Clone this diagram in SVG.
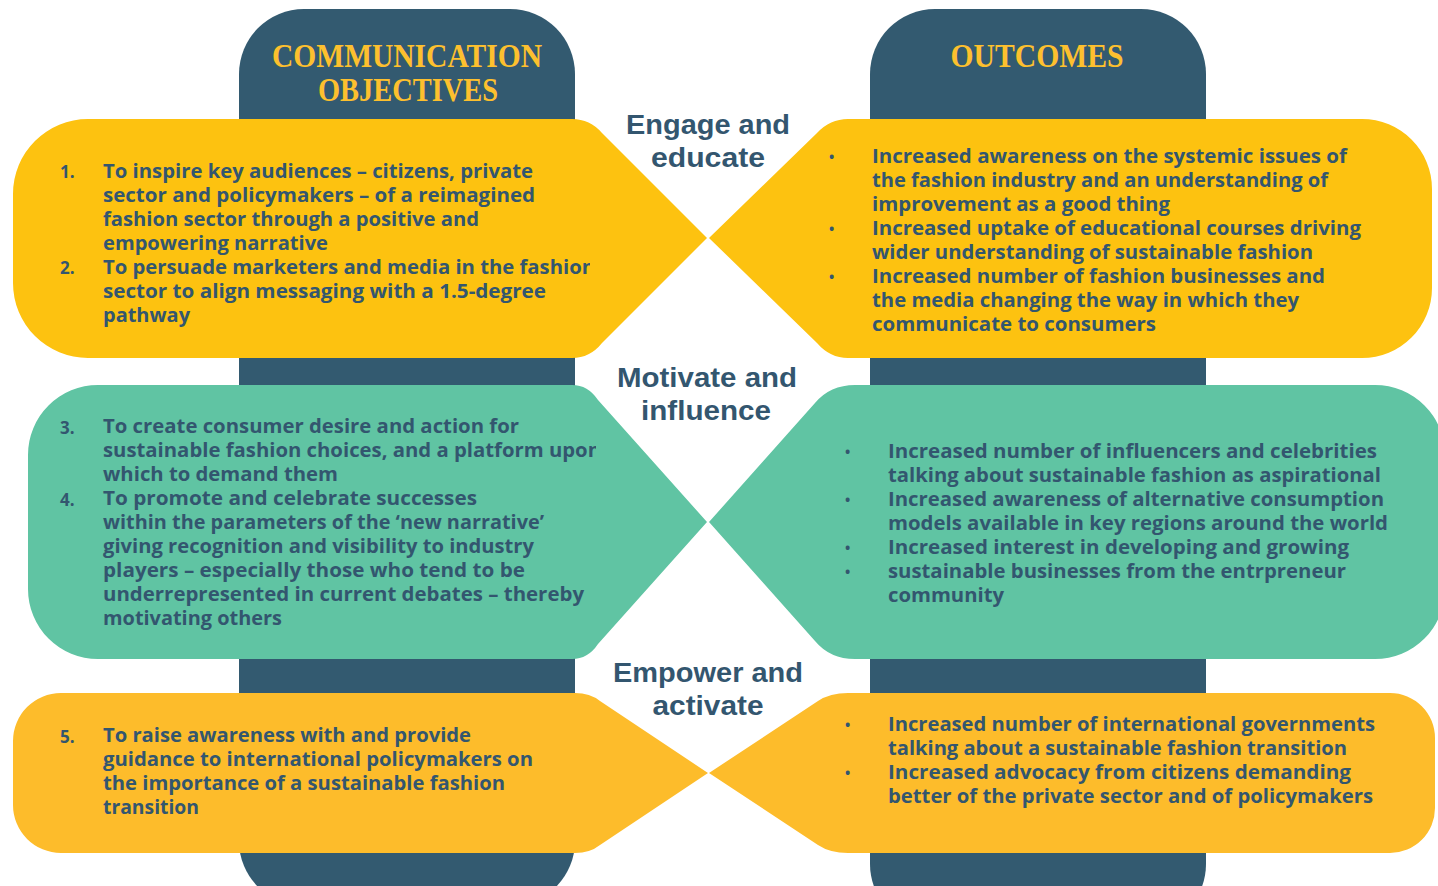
<svg xmlns="http://www.w3.org/2000/svg" width="1438" height="886" viewBox="0 0 1438 886">
<defs>
<style>
.col{fill:#335A70}
.yel{fill:#FDC210}
.yel2{fill:#FDBC2B}
.teal{fill:#60C4A3}
.hdr{font-family:"Liberation Serif","DejaVu Serif",serif;font-weight:700;font-size:34px;fill:#FDC02E;text-anchor:middle}
.lbl{font-family:"Liberation Sans","Open Sans",sans-serif;font-weight:700;font-size:28px;fill:#33566F;text-anchor:middle}
.t{font-family:"Open Sans","Liberation Sans",sans-serif;font-weight:700;font-size:19px;fill:#33566F}
.n{font-family:"Open Sans","Liberation Sans",sans-serif;font-weight:700;font-size:17px;fill:#33566F}
.b{font-family:"Open Sans","Liberation Sans",sans-serif;font-weight:700;font-size:14px;fill:#33566F}
</style>
<clipPath id="clip1"><rect x="0" y="110" width="590" height="260"/></clipPath>
<clipPath id="clip2"><rect x="0" y="380" width="596" height="290"/></clipPath>
</defs>
<rect width="1438" height="886" fill="#FFFFFF"/>

<g id="column-objectives">
<path class="col" d="M304,9 H510 A65 65 0 0 1 575,74 V841 A65 65 0 0 1 510,906 H304 A65 65 0 0 1 239,841 V74 A65 65 0 0 1 304,9 Z"/>
<text class="hdr" x="407" y="67" textLength="270" lengthAdjust="spacingAndGlyphs">COMMUNICATION</text>
<text class="hdr" x="408" y="101" textLength="180" lengthAdjust="spacingAndGlyphs">OBJECTIVES</text>
</g>

<g id="column-outcomes">
<path class="col" d="M935,9 H1141 A65 65 0 0 1 1206,74 V864 A65 65 0 0 1 1141,929 H935 A65 65 0 0 1 870,864 V74 A65 65 0 0 1 935,9 Z"/>
<text class="hdr" x="1037" y="67" textLength="173" lengthAdjust="spacingAndGlyphs">OUTCOMES</text>
</g>

<g id="objective-1">
<path class="yel" d="M88,119 H572 Q590,119 602,133 L707,238 L602,343 Q590,358 572,358 H88 A75 75 0 0 1 13,283 V194 A75 75 0 0 1 88,119 Z"/>
<g clip-path="url(#clip1)">
<text class="n" x="60" y="178">1.</text>
<text class="t" x="103" y="178" textLength="430" lengthAdjust="spacingAndGlyphs">To inspire key audiences – citizens, private</text>
<text class="t" x="103" y="202" textLength="432" lengthAdjust="spacingAndGlyphs">sector and policymakers – of a reimagined</text>
<text class="t" x="103" y="226" textLength="376" lengthAdjust="spacingAndGlyphs">fashion sector through a positive and</text>
<text class="t" x="103" y="250" textLength="225" lengthAdjust="spacingAndGlyphs">empowering narrative</text>
<text class="n" x="60" y="274">2.</text>
<text class="t" x="103" y="274" textLength="492" lengthAdjust="spacingAndGlyphs">To persuade marketers and media in the fashion</text>
<text class="t" x="103" y="298" textLength="443" lengthAdjust="spacingAndGlyphs">sector to align messaging with a 1.5-degree</text>
<text class="t" x="103" y="322" textLength="87" lengthAdjust="spacingAndGlyphs">pathway</text>
</g>
</g>

<g id="outcome-1">
<path class="yel" d="M709,238 L817,133 Q830,119 848,119 H1362 A70 70 0 0 1 1432,189 V288 A70 70 0 0 1 1362,358 H848 Q830,358 817,343 Z"/>
<text class="b" x="829" y="162">•</text>
<text class="t" x="872" y="163" textLength="475" lengthAdjust="spacingAndGlyphs">Increased awareness on the systemic issues of</text>
<text class="t" x="872" y="187" textLength="456" lengthAdjust="spacingAndGlyphs">the fashion industry and an understanding of</text>
<text class="t" x="872" y="211" textLength="298" lengthAdjust="spacingAndGlyphs">improvement as a good thing</text>
<text class="b" x="829" y="234">•</text>
<text class="t" x="872" y="235" textLength="489" lengthAdjust="spacingAndGlyphs">Increased uptake of educational courses driving</text>
<text class="t" x="872" y="259" textLength="441" lengthAdjust="spacingAndGlyphs">wider understanding of sustainable fashion</text>
<text class="b" x="829" y="282">•</text>
<text class="t" x="872" y="283" textLength="453" lengthAdjust="spacingAndGlyphs">Increased number of fashion businesses and</text>
<text class="t" x="872" y="307" textLength="427" lengthAdjust="spacingAndGlyphs">the media changing the way in which they</text>
<text class="t" x="872" y="331" textLength="284" lengthAdjust="spacingAndGlyphs">communicate to consumers</text>
</g>

<g id="objective-2">
<path class="teal" d="M98,385 H572 Q588,385 598,400 L707,522 L598,644 Q588,659 572,659 H98 A70 70 0 0 1 28,589 V455 A70 70 0 0 1 98,385 Z"/>
<g clip-path="url(#clip2)">
<text class="n" x="60" y="434">3.</text>
<text class="t" x="103" y="433" textLength="416" lengthAdjust="spacingAndGlyphs">To create consumer desire and action for</text>
<text class="t" x="103" y="457" textLength="498" lengthAdjust="spacingAndGlyphs">sustainable fashion choices, and a platform upon</text>
<text class="t" x="103" y="481" textLength="235" lengthAdjust="spacingAndGlyphs">which to demand them</text>
<text class="n" x="60" y="506">4.</text>
<text class="t" x="103" y="505" textLength="374" lengthAdjust="spacingAndGlyphs">To promote and celebrate successes</text>
<text class="t" x="103" y="529" textLength="441" lengthAdjust="spacingAndGlyphs">within the parameters of the ‘new narrative’</text>
<text class="t" x="103" y="553" textLength="431" lengthAdjust="spacingAndGlyphs">giving recognition and visibility to industry</text>
<text class="t" x="103" y="577" textLength="422" lengthAdjust="spacingAndGlyphs">players – especially those who tend to be</text>
<text class="t" x="103" y="601" textLength="481" lengthAdjust="spacingAndGlyphs">underrepresented in current debates – thereby</text>
<text class="t" x="103" y="625" textLength="179" lengthAdjust="spacingAndGlyphs">motivating others</text>
</g>
</g>

<g id="outcome-2">
<path class="teal" d="M709,522 L815,403 Q830,385 855,385 H1375 A70 70 0 0 1 1445,455 V589 A70 70 0 0 1 1375,659 H855 Q830,659 815,641 Z"/>
<text class="b" x="845" y="457">•</text>
<text class="t" x="888" y="458" textLength="489" lengthAdjust="spacingAndGlyphs">Increased number of influencers and celebrities</text>
<text class="t" x="888" y="482" textLength="493" lengthAdjust="spacingAndGlyphs">talking about sustainable fashion as aspirational</text>
<text class="b" x="845" y="505">•</text>
<text class="t" x="888" y="506" textLength="496" lengthAdjust="spacingAndGlyphs">Increased awareness of alternative consumption</text>
<text class="t" x="888" y="530" textLength="500" lengthAdjust="spacingAndGlyphs">models available in key regions around the world</text>
<text class="b" x="845" y="553">•</text>
<text class="t" x="888" y="554" textLength="461" lengthAdjust="spacingAndGlyphs">Increased interest in developing and growing</text>
<text class="b" x="845" y="577">•</text>
<text class="t" x="888" y="578" textLength="458" lengthAdjust="spacingAndGlyphs">sustainable businesses from the entrpreneur</text>
<text class="t" x="888" y="602" textLength="116" lengthAdjust="spacingAndGlyphs">community</text>
</g>

<g id="objective-3">
<path class="yel2" d="M61,693 H575 Q590,693 600,701 L708,773 L600,845 Q590,853 575,853 H61 A48 48 0 0 1 13,805 V741 A48 48 0 0 1 61,693 Z"/>
<text class="n" x="60" y="743">5.</text>
<text class="t" x="103" y="742" textLength="368" lengthAdjust="spacingAndGlyphs">To raise awareness with and provide</text>
<text class="t" x="103" y="766" textLength="430" lengthAdjust="spacingAndGlyphs">guidance to international policymakers on</text>
<text class="t" x="103" y="790" textLength="402" lengthAdjust="spacingAndGlyphs">the importance of a sustainable fashion</text>
<text class="t" x="103" y="814" textLength="96" lengthAdjust="spacingAndGlyphs">transition</text>
</g>

<g id="outcome-3">
<path class="yel2" d="M709,773 L818,701 Q830,693 848,693 H1390 A45 45 0 0 1 1435,738 V808 A45 45 0 0 1 1390,853 H848 Q830,853 818,845 Z"/>
<text class="b" x="845" y="730">•</text>
<text class="t" x="888" y="731" textLength="487" lengthAdjust="spacingAndGlyphs">Increased number of international governments</text>
<text class="t" x="888" y="755" textLength="459" lengthAdjust="spacingAndGlyphs">talking about a sustainable fashion transition</text>
<text class="b" x="845" y="778">•</text>
<text class="t" x="888" y="779" textLength="463" lengthAdjust="spacingAndGlyphs">Increased advocacy from citizens demanding</text>
<text class="t" x="888" y="803" textLength="485" lengthAdjust="spacingAndGlyphs">better of the private sector and of policymakers</text>
</g>

<g id="label-engage">
<text class="lbl" x="708" y="134" textLength="164" lengthAdjust="spacingAndGlyphs">Engage and</text>
<text class="lbl" x="708" y="167" textLength="114" lengthAdjust="spacingAndGlyphs">educate</text>
</g>
<g id="label-motivate">
<text class="lbl" x="707" y="387" textLength="180" lengthAdjust="spacingAndGlyphs">Motivate and</text>
<text class="lbl" x="706" y="420" textLength="130" lengthAdjust="spacingAndGlyphs">influence</text>
</g>
<g id="label-empower">
<text class="lbl" x="708" y="682" textLength="190" lengthAdjust="spacingAndGlyphs">Empower and</text>
<text class="lbl" x="708" y="715" textLength="111" lengthAdjust="spacingAndGlyphs">activate</text>
</g>
<g id="connectors"/>
</svg>
